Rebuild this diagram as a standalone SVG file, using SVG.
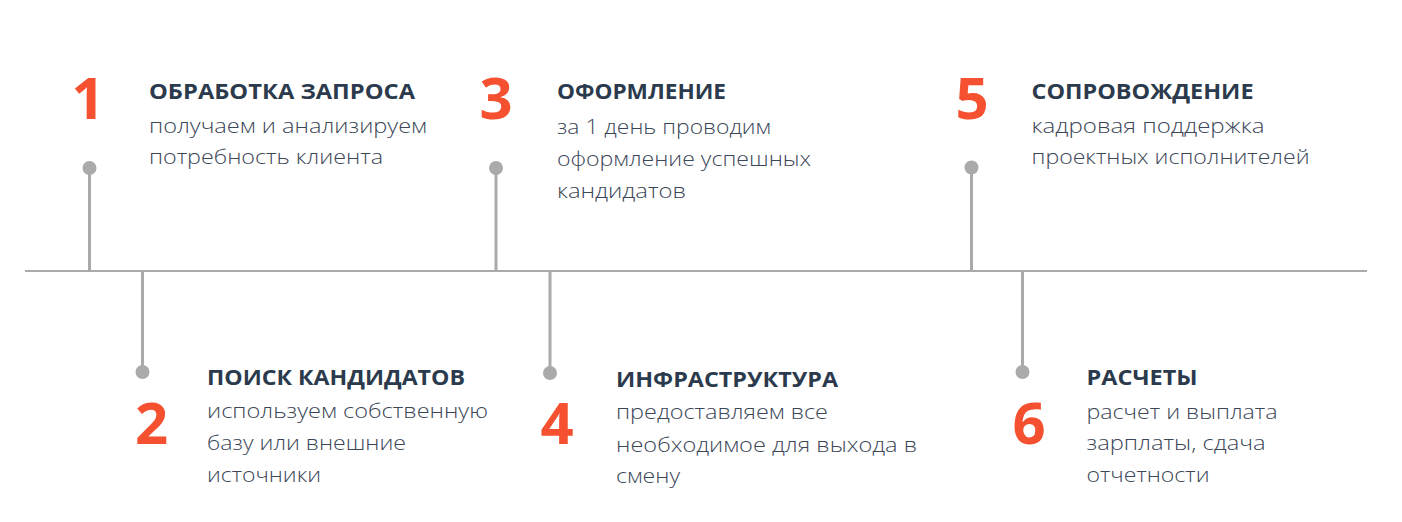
<svg xmlns="http://www.w3.org/2000/svg" width="1402" height="522" viewBox="0 0 1402 522">
<style>
.num{font-family:"Open Sans","Liberation Sans",sans-serif;font-weight:700;font-size:58px;fill:#f5502f;text-anchor:middle}
.hd{font-family:"Open Sans","Liberation Sans",sans-serif;font-weight:700;font-size:21.5px;fill:#2b3a4c}
.tx{font-family:"Open Sans","Liberation Sans",sans-serif;font-weight:300;font-size:20px;fill:#3b4657}
.ln{stroke:#aaaaaa;fill:none}
.dot{fill:#aaaaaa}
</style>
<rect width="1402" height="522" fill="#ffffff"/>
<g id="connectors">
<line class="ln" x1="25" y1="271" x2="1367" y2="271" stroke-width="2"/>
<line class="ln" x1="89.5" y1="168" x2="89.5" y2="271" stroke-width="3"/>
<line class="ln" x1="142.5" y1="271" x2="142.5" y2="372" stroke-width="3"/>
<line class="ln" x1="496" y1="168" x2="496" y2="271" stroke-width="3"/>
<line class="ln" x1="550" y1="271" x2="550" y2="373" stroke-width="3"/>
<line class="ln" x1="971.5" y1="167.5" x2="971.5" y2="271" stroke-width="3"/>
<line class="ln" x1="1022.5" y1="271" x2="1022.5" y2="372" stroke-width="3"/>
<circle class="dot" cx="89.5" cy="168" r="7"/>
<circle class="dot" cx="142.5" cy="372" r="7"/>
<circle class="dot" cx="496" cy="168" r="7"/>
<circle class="dot" cx="550" cy="373" r="7"/>
<circle class="dot" cx="971.5" cy="167.5" r="7"/>
<circle class="dot" cx="1022.5" cy="372" r="7"/>
</g>
<g id="step1">
<text class="num" x="88" y="119">1</text>
<text class="hd" x="149" y="99" textLength="266" lengthAdjust="spacingAndGlyphs">ОБРАБОТКА ЗАПРОСА</text>
<text class="tx" x="149" y="133" textLength="278" lengthAdjust="spacingAndGlyphs">получаем и анализируем</text>
<text class="tx" x="149" y="164" textLength="234" lengthAdjust="spacingAndGlyphs">потребность клиента</text>
</g>
<g id="step2">
<text class="num" x="151.5" y="444">2</text>
<text class="hd" x="207" y="385" textLength="258" lengthAdjust="spacingAndGlyphs">ПОИСК КАНДИДАТОВ</text>
<text class="tx" x="207" y="418" textLength="281" lengthAdjust="spacingAndGlyphs">используем собственную</text>
<text class="tx" x="207" y="450" textLength="199" lengthAdjust="spacingAndGlyphs">базу или внешние</text>
<text class="tx" x="207" y="482" textLength="114" lengthAdjust="spacingAndGlyphs">источники</text>
</g>
<g id="step3">
<text class="num" x="496" y="119">3</text>
<text class="hd" x="557" y="99" textLength="169" lengthAdjust="spacingAndGlyphs">ОФОРМЛЕНИЕ</text>
<text class="tx" x="557" y="134" textLength="214" lengthAdjust="spacingAndGlyphs">за 1 день проводим</text>
<text class="tx" x="557" y="166" textLength="254" lengthAdjust="spacingAndGlyphs">оформление успешных</text>
<text class="tx" x="557" y="198" textLength="129" lengthAdjust="spacingAndGlyphs">кандидатов</text>
</g>
<g id="step4">
<text class="num" x="557" y="444">4</text>
<text class="hd" x="616" y="386.5" textLength="222" lengthAdjust="spacingAndGlyphs">ИНФРАСТРУКТУРА</text>
<text class="tx" x="616" y="419" textLength="212" lengthAdjust="spacingAndGlyphs">предоставляем все</text>
<text class="tx" x="616" y="451.5" textLength="301" lengthAdjust="spacingAndGlyphs">необходимое для выхода в</text>
<text class="tx" x="616" y="483" textLength="64" lengthAdjust="spacingAndGlyphs">смену</text>
</g>
<g id="step5">
<text class="num" x="972" y="119">5</text>
<text class="hd" x="1031.5" y="99" textLength="222" lengthAdjust="spacingAndGlyphs">СОПРОВОЖДЕНИЕ</text>
<text class="tx" x="1031.5" y="132.5" textLength="233" lengthAdjust="spacingAndGlyphs">кадровая поддержка</text>
<text class="tx" x="1031.5" y="163.5" textLength="278" lengthAdjust="spacingAndGlyphs">проектных исполнителей</text>
</g>
<g id="step6">
<text class="num" x="1029" y="444">6</text>
<text class="hd" x="1086.5" y="385" textLength="111" lengthAdjust="spacingAndGlyphs">РАСЧЕТЫ</text>
<text class="tx" x="1086.5" y="418.5" textLength="191" lengthAdjust="spacingAndGlyphs">расчет и выплата</text>
<text class="tx" x="1086.5" y="450" textLength="179" lengthAdjust="spacingAndGlyphs">зарплаты, сдача</text>
<text class="tx" x="1086.5" y="482" textLength="123" lengthAdjust="spacingAndGlyphs">отчетности</text>
</g>
</svg>
